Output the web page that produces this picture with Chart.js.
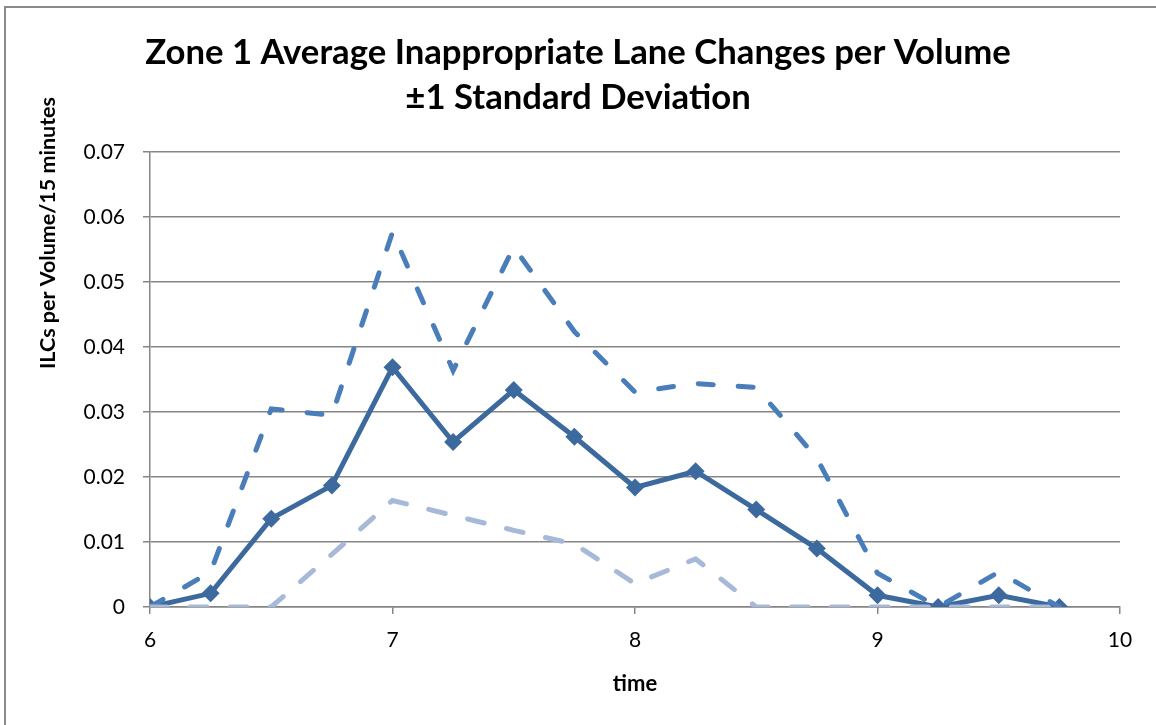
<!DOCTYPE html>
<html>
<head>
<meta charset="utf-8">
<script src="https://cdn.jsdelivr.net/npm/chart.js@4"></script>
<style>
  html, body { margin: 0; padding: 0; background: #fff; }
  #wrap { position: relative; width: 1156px; height: 725px; }
  #frame { position: absolute; left: 4px; top: 6px; right: 0; bottom: 0;
           border-top: 2px solid #8a8a8a; border-left: 2px solid #8a8a8a; pointer-events: none; }
</style>
</head>
<body>
<div id="wrap">
  <canvas id="myChart" width="1156" height="725"></canvas>
  <div id="frame"></div>
</div>
<script>
// time of day, every 15 minutes
var times = [6, 6.25, 6.5, 6.75, 7, 7.25, 7.5, 7.75, 8, 8.25, 8.5, 8.75, 9, 9.25, 9.5, 9.75];

// average ILCs per volume
var average = [0, 0.0021, 0.0136, 0.0187, 0.0369, 0.0254, 0.0334, 0.0262, 0.0184, 0.0209, 0.0150, 0.0090, 0.0018, 0, 0.0018, 0];
// +1 standard deviation
var plusOne = [0, 0.0054, 0.0305, 0.0295, 0.0577, 0.0364, 0.0554, 0.0424, 0.0331, 0.0344, 0.0338, 0.0229, 0.0052, 0, 0.0054, 0];
// -1 standard deviation (floored at zero)
var minusOne = [0, 0, 0, 0.0081, 0.0164, 0.0141, 0.0118, 0.0097, 0.0036, 0.0074, 0, 0, 0, 0, 0, 0];

var xTicks = [6, 7, 8, 9, 10];
var yTicks = [0, 0.01, 0.02, 0.03, 0.04, 0.05, 0.06, 0.07];

function toPoints(values) {
    var pts = [];
    for (var i = 0; i < times.length; i++) {
        pts.push({x: times[i], y: values[i]});
    }
    return pts;
}

var gridGray = '#868686';

// vertical axis title sits higher than the plot centre in the original
var yTitlePlugin = {
    id: 'yTitle',
    afterDraw: function (chart) {
        var ctx = chart.ctx;
        ctx.save();
        ctx.translate(48, 233);
        ctx.rotate(-Math.PI / 2);
        ctx.font = 'bold 21.5px Lato';
        ctx.fillStyle = '#000';
        ctx.textAlign = 'center';
        ctx.textBaseline = 'middle';
        ctx.fillText('ILCs per Volume/15 minutes', 0, 0);
        ctx.restore();
    }
};

var ctx = document.getElementById('myChart').getContext('2d');
var myChart = new Chart(ctx, {
    type: 'line',
    data: {
        datasets: [{
            label: 'Average',
            data: toPoints(average),
            borderColor: '#3D6A9E',
            backgroundColor: '#3D6A9E',
            borderWidth: 5,
            pointStyle: 'rectRot',
            pointRadius: 9,
            pointBorderWidth: 0,
            tension: 0,
            order: 2
        }, {
            label: '+1 SD',
            data: toPoints(plusOne),
            borderColor: '#4A7EBB',
            borderWidth: 5,
            borderDash: [15, 25],
            borderCapStyle: 'round',
            pointRadius: 0,
            tension: 0,
            order: 1
        }, {
            label: '-1 SD',
            data: toPoints(minusOne),
            borderColor: '#A7B9D8',
            borderWidth: 5,
            borderDash: [17, 23],
            borderCapStyle: 'round',
            pointRadius: 0,
            tension: 0,
            order: 0
        }]
    },
    options: {
        responsive: false,
        animation: false,
        layout: {padding: 0},
        plugins: {
            legend: {display: false},
            tooltip: {enabled: false},
            title: {
                display: true,
                text: ['Zone 1 Average Inappropriate Lane Changes per Volume', '\u00B11 Standard Deviation'],
                color: '#000',
                font: {family: 'Lato', size: 34.7, weight: 'bold', lineHeight: 1.3},
                padding: {top: 30, bottom: 32}
            }
        },
        scales: {
            x: {
                type: 'linear',
                min: 6,
                max: 10,
                afterBuildTicks: function (scale) {
                    scale.ticks = xTicks.map(function (v) { return {value: v}; });
                },
                afterFit: function (scale) { scale.height = 118; },
                ticks: {color: '#000', font: {family: 'Lato', size: 21}, padding: 14},
                grid: {drawOnChartArea: false, drawTicks: true, tickLength: 7, color: gridGray, lineWidth: 1.5},
                border: {color: gridGray, width: 1.5},
                title: {display: true, text: 'time', color: '#000',
                        font: {family: 'Lato', size: 22, weight: 'bold'}, padding: {top: 0, bottom: 28}}
            },
            y: {
                min: 0,
                max: 0.07,
                afterBuildTicks: function (scale) {
                    scale.ticks = yTicks.map(function (v) { return {value: v}; });
                },
                afterFit: function (scale) { scale.width = 150; },
                ticks: {
                    color: '#000',
                    font: {family: 'Lato', size: 21},
                    padding: 18,
                    callback: function (v) { return v === 0 ? '0' : v.toFixed(2); }
                },
                grid: {color: gridGray, lineWidth: 1.5, drawTicks: true, tickLength: 7},
                border: {color: gridGray, width: 1.5}
            },
            // empty right-hand strip so the title stays centred on the canvas
            spacer: {
                position: 'right',
                display: true,
                ticks: {display: false},
                grid: {display: false},
                border: {display: false},
                afterFit: function (scale) { scale.width = 36; }
            }
        }
    },
    plugins: [yTitlePlugin]
});
</script>
</body>
</html>
